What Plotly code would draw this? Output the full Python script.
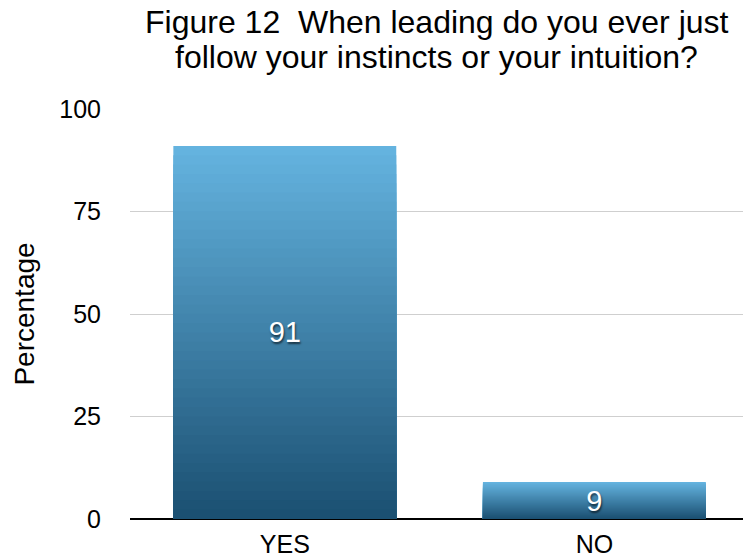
import plotly.graph_objects as go

categories = ["YES", "NO"]
values = [91, 9]
tick_vals = [0, 25, 50, 75, 100]
tick_text = ["0", "25", "50", "75", "100"]
title_lines = ["Figure 12  When leading do you ever just",
               "follow your instincts or your intuition?"]

top_rgb = (100, 179, 223)
bot_rgb = (27, 80, 114)
steps = 40
FONT = "Liberation Sans, Arial, sans-serif"

fig = go.Figure()
for i in range(steps):
    frac = 1 - i / steps
    t = i / (steps - 1)
    c = tuple(round(top_rgb[k] + (bot_rgb[k] - top_rgb[k]) * t) for k in range(3))
    fig.add_trace(go.Bar(
        x=categories, y=[v * frac for v in values],
        marker=dict(color="rgb(%d,%d,%d)" % c, line=dict(width=0)),
        width=0.72, hoverinfo="skip", showlegend=False,
    ))
fig.add_trace(go.Bar(
    x=categories, y=values, width=0.72,
    marker=dict(color="rgba(0,0,0,0)", line=dict(width=0)),
    text=[str(v) for v in values], textposition="inside", textangle=0,
    insidetextanchor="middle", constraintext="none",
    textfont=dict(family=FONT, size=29, color="white",
                  shadow="1px 2px 2px rgba(0,0,0,0.6)"),
    hoverinfo="skip", showlegend=False,
))

annots = []
for j, (line, ypos) in enumerate(zip(title_lines, [1.212, 1.127])):
    annots.append(dict(text=line, x=0.5008, xref="paper", y=ypos, yref="paper",
                       xanchor="center", yanchor="middle", showarrow=False,
                       font=dict(family=FONT, size=32, color="black")))

fig.update_layout(
    width=743, height=557,
    barmode="overlay",
    paper_bgcolor="white", plot_bgcolor="white",
    margin=dict(l=130, r=0, t=109, b=38),
    font=dict(family=FONT, color="black", size=25),
    annotations=annots,
    uniformtext=dict(mode="show", minsize=29),
    xaxis=dict(range=[-0.5, 1.48], showgrid=False, showline=False, ticks="",
               tickfont=dict(size=25), ticklabelstandoff=8, fixedrange=True),
    yaxis=dict(range=[0, 100], tickvals=tick_vals, ticktext=tick_text,
               showgrid=True, gridcolor="#cfcfcf", gridwidth=1,
               zeroline=True, zerolinecolor="black", zerolinewidth=2,
               ticks="", ticklabelstandoff=28, tickfont=dict(size=25),
               title=dict(text="Percentage", font=dict(size=28), standoff=16),
               fixedrange=True),
)

fig.write_html("out.html")
